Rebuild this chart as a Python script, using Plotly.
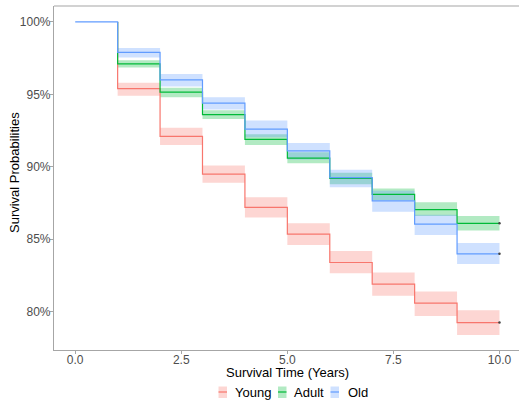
import plotly.graph_objects as go

# Step start times (years) and survival estimates (%) for each interval
times = [0, 1, 2, 3, 4, 5, 6, 7, 8, 9, 10]

young = [100, 95.4, 92.1, 89.5, 87.2, 85.35, 83.4, 81.9, 80.6, 79.25]
young_lo = [100, 94.9, 91.5, 88.9, 86.5, 84.6, 82.65, 81.1, 79.7, 78.4]
young_hi = [100, 95.8, 92.7, 90.1, 87.9, 86.1, 84.2, 82.7, 81.4, 80.1]

adult = [100, 97.1, 95.15, 93.6, 91.9, 90.6, 89.2, 88.1, 87.05, 86.1]
adult_lo = [100, 96.85, 94.8, 93.3, 91.5, 90.25, 88.8, 87.7, 86.6, 85.6]
adult_hi = [100, 97.35, 95.45, 93.9, 92.25, 91.0, 89.6, 88.5, 87.55, 86.6]

old = [100, 97.9, 96.0, 94.4, 92.6, 91.1, 89.25, 87.65, 86.05, 84.0]
old_lo = [100, 97.55, 95.55, 93.95, 92.05, 90.5, 88.6, 86.9, 85.3, 83.3]
old_hi = [100, 98.2, 96.4, 94.8, 93.2, 91.65, 89.8, 88.35, 86.7, 84.75]

groups = ["Young", "Adult", "Old"]
colors = ["#F8766D", "#00BA38", "#619CFF"]
fills = ["rgba(248,118,109,0.3)", "rgba(0,186,56,0.3)", "rgba(97,156,255,0.3)"]

x_ticks = [0, 2.5, 5, 7.5, 10]
x_labels = ["0.0", "2.5", "5.0", "7.5", "10.0"]
y_ticks = [80, 85, 90, 95, 100]
y_labels = ["80%", "85%", "90%", "95%", "100%"]
x_title = "Survival Time (Years)"
y_title = "Survival Probabilities"

series = [(young, young_lo, young_hi), (adult, adult_lo, adult_hi), (old, old_lo, old_hi)]


def ext(v):
    return [x / 100 for x in v] + [v[-1] / 100]


fig = go.Figure()
for g, c, f, (s, lo, hi) in zip(groups, colors, fills, series):
    fig.add_trace(go.Scatter(x=times, y=ext(lo), mode="lines", line=dict(width=0, shape="hv"),
                             showlegend=False, hoverinfo="skip"))
    fig.add_trace(go.Scatter(x=times, y=ext(hi), mode="lines", line=dict(width=0, shape="hv"),
                             fill="tonexty", fillcolor=f, showlegend=False, hoverinfo="skip"))
for i, (g, c, f, (s, lo, hi)) in enumerate(zip(groups, colors, fills, series)):
    ys = ext(s)
    xs = list(times)
    if i < len(groups) - 1:
        # shared initial 100% segment is drawn once (by the last group, on top)
        ys = [s[0] / 100] + ys[1:-1] + [ys[-1]]
        xs = [times[1]] + xs[1:-1] + [times[-1]]
    fig.add_trace(go.Scatter(x=xs, y=ys, mode="lines", line=dict(color=c, width=1.2, shape="hv"),
                             name=g, showlegend=False))
    fig.add_trace(go.Scatter(x=[times[-1]], y=[s[-1] / 100], mode="markers",
                             marker=dict(color="#444444", size=2.5), showlegend=False,
                             hoverinfo="skip"))

# custom ggplot-like legend and axis titles (positions in pixels -> paper coords)
L, T, W, H = 54, 6, 465, 344
def px(x):
    return (x - L) / W
def py(y):
    return (T + H - y) / H

key_x = [218.5, 278, 330.5]
text_x = [232.5, 291.5, 345.5]
shapes = [dict(type="line", xref="paper", yref="paper", x0=0, x1=1, y0=1, y1=1,
               line=dict(color="#A6A6A6", width=1.2))]
annotations = [
    dict(text=x_title, xref="paper", yref="paper", x=px(287), y=py(372),
         xanchor="center", yanchor="middle", showarrow=False,
         font=dict(size=13, color="#000000")),
    dict(text=y_title, xref="paper", yref="paper", x=px(14), y=py(173),
         xanchor="center", yanchor="middle", showarrow=False, textangle=-90,
         font=dict(size=13, color="#000000")),
]
for g, c, f, kx, tx in zip(groups, colors, fills, key_x, text_x):
    shapes.append(dict(type="rect", xref="paper", yref="paper", x0=px(kx), x1=px(kx + 8.5),
                       y0=py(398), y1=py(386.5), fillcolor=f, line=dict(width=0), layer="above"))
    shapes.append(dict(type="line", xref="paper", yref="paper", x0=px(kx), x1=px(kx + 8.5),
                       y0=py(392), y1=py(392), line=dict(color=c, width=1.2), layer="above"))
    annotations.append(dict(text=g, xref="paper", yref="paper", x=px(tx), y=py(392),
                            xanchor="left", yanchor="middle", showarrow=False,
                            font=dict(size=13, color="#000000")))

fig.update_layout(
    width=519, height=400,
    margin=dict(l=54, r=0, t=6, b=50),
    plot_bgcolor="white", paper_bgcolor="white",
    font=dict(family="Liberation Sans, Arial, sans-serif", size=13, color="#000000"),
    showlegend=False,
    shapes=shapes,
    annotations=annotations,
)
fig.update_xaxes(
    range=[-0.5, 10.46], tickvals=x_ticks, ticktext=x_labels,
    showgrid=False, zeroline=False, showline=True, linecolor="#A6A6A6", linewidth=1.2,
    ticks="outside", ticklen=3, tickcolor="#A6A6A6", ticklabelstandoff=-5,
    tickfont=dict(size=12, color="#4D4D4D"),
)
fig.update_yaxes(
    range=[0.7736, 1.011], tickvals=[v / 100 for v in y_ticks], ticktext=y_labels,
    showgrid=False, zeroline=False, showline=True, linecolor="#A6A6A6", linewidth=1.2,
    ticks="outside", ticklen=3, tickcolor="#A6A6A6", ticklabelstandoff=-3,
    tickfont=dict(size=12, color="#4D4D4D"),
)

fig.write_html("out.html")
